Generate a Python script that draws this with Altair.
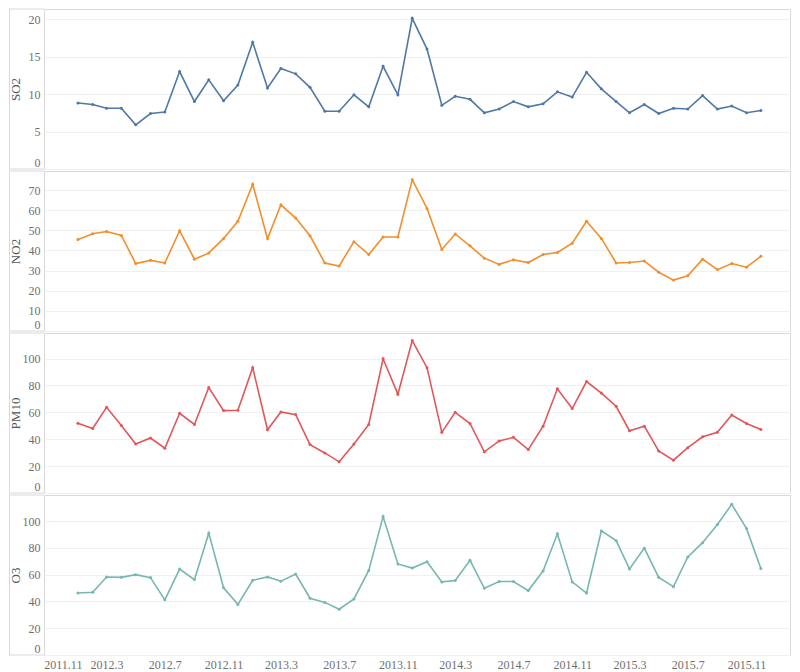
import altair as alt
import pandas as pd

# monthly observations, 2012.1 - 2015.12
months = [f"{y}-{m:02d}-01" for y in range(2012, 2016) for m in range(1, 13)]

so2 = [8.8, 8.6, 8.1, 8.1, 5.9, 7.4, 7.6, 13.0, 9.0, 11.9, 9.1, 11.2,
       16.9, 10.8, 13.4, 12.7, 10.9, 7.7, 7.7, 9.9, 8.3, 13.7, 9.9, 20.1,
       16.0, 8.5, 9.7, 9.3, 7.5, 8.0, 9.0, 8.3, 8.7, 10.3, 9.6, 12.9,
       10.7, 9.0, 7.5, 8.6, 7.4, 8.1, 8.0, 9.8, 8.0, 8.4, 7.5, 7.8]

no2 = [45.5, 48.3, 49.4, 47.5, 33.5, 35.1, 33.8, 49.8, 35.7, 38.7, 46.0, 54.5,
       72.9, 45.9, 62.7, 56.1, 47.3, 33.8, 32.3, 44.4, 38.0, 46.7, 46.7, 75.2,
       60.9, 40.5, 48.2, 42.3, 36.2, 33.1, 35.4, 34.0, 38.0, 39.0, 43.6, 54.5,
       46.0, 33.8, 34.0, 34.8, 29.2, 25.3, 27.4, 35.7, 30.5, 33.5, 31.7, 37.1]

pm10 = [51.9, 48.0, 63.7, 50.2, 36.5, 40.9, 33.3, 59.3, 51.0, 78.5, 61.3, 61.5,
        93.2, 47.0, 60.3, 58.3, 36.0, 29.8, 23.2, 36.5, 51.0, 99.8, 73.5, 113.3,
        93.2, 45.1, 60.0, 51.7, 30.6, 38.7, 41.4, 32.3, 49.7, 77.5, 62.8, 82.9,
        74.3, 64.5, 46.3, 49.7, 31.3, 24.4, 33.7, 41.8, 45.1, 58.0, 51.7, 47.3]

o3 = [46.3, 46.8, 58.3, 58.0, 60.0, 57.8, 41.2, 64.2, 56.3, 91.0, 50.2, 37.8,
      55.8, 58.3, 55.1, 60.5, 42.4, 39.3, 34.2, 41.9, 63.2, 103.4, 68.0, 64.9,
      69.7, 54.6, 55.6, 70.7, 49.8, 54.9, 54.9, 48.1, 62.7, 90.5, 54.6, 46.3,
      92.7, 85.4, 64.2, 79.8, 58.0, 51.0, 73.2, 83.9, 97.5, 112.5, 94.4, 64.6]

pollutants = ["SO2", "NO2", "PM10", "O3"]
series = [so2, no2, pm10, o3]
colors = ["#4e79a7", "#f28e2b", "#e15759", "#76b7b2"]
y_max = [21.35, 79.5, 119.0, 119.5]
y_ticks = [
    [0, 5, 10, 15, 20],
    [0, 10, 20, 30, 40, 50, 60, 70],
    [0, 20, 40, 60, 80, 100],
    [0, 20, 40, 60, 80, 100],
]
x_tick_labels = ["2011.11", "2012.3", "2012.7", "2012.11", "2013.3", "2013.7",
                 "2013.11", "2014.3", "2014.7", "2014.11", "2015.3", "2015.7",
                 "2015.11"]


def to_dt(label):
    y, m = label.split(".")
    return alt.DateTime(year=int(y), month=int(m), date=1, utc=True)


x_domain = [alt.DateTime(year=2011, month=10, date=22, utc=True),
            alt.DateTime(year=2016, month=1, date=31, utc=True)]

FONT = "Liberation Serif"
W, H = 746, 160
FRAME = "#d9d9d9"
HEADER_W = 35  # width of the row-header strip left of each pane


def panel(name, values, color, ymax, ticks, show_x):
    data = pd.DataFrame({"month": months, "value": values})
    if show_x:
        x_axis = alt.Axis(
            values=[to_dt(l) for l in x_tick_labels],
            labelExpr="utcFormat(datum.value, '%Y') + '.' + (utcmonth(datum.value) + 1)",
            labelFlush=12,
            labelFlushOffset=5,
            grid=False, ticks=False, domain=False,
            labelPadding=4, title=None,
        )
    else:
        x_axis = None
    line = alt.Chart(data).mark_line(
        color=color, strokeWidth=1.6,
        point=alt.OverlayMarkDef(color=color, size=9, filled=True, opacity=1),
    ).encode(
        x=alt.X("month:T", scale=alt.Scale(type="utc", domain=x_domain), axis=x_axis),
        y=alt.Y("value:Q",
                scale=alt.Scale(domain=[0, ymax], nice=False, zero=False),
                axis=alt.Axis(values=ticks, title=name, titleX=-29,
                              titleBaseline="middle", labelFlush=True,
                              labelPadding=4, grid=True, ticks=False,
                              domain=False)),
    )
    # frame of the row-header strip (decoration, pixel space)
    frame_src = alt.Chart(pd.DataFrame({"k": [0]}))
    top = frame_src.mark_rule(color=FRAME, strokeWidth=1).encode(
        x=alt.value(-HEADER_W), x2=alt.value(0), y=alt.value(0))
    bottom = frame_src.mark_rule(color=FRAME, strokeWidth=1).encode(
        x=alt.value(-HEADER_W), x2=alt.value(0), y=alt.value(H))
    side = frame_src.mark_rule(color=FRAME, strokeWidth=1).encode(
        x=alt.value(-HEADER_W + 0.5), y=alt.value(0), y2=alt.value(H))
    return alt.layer(line, top, bottom, side).properties(width=W, height=H)


charts = [panel(n, s, c, m, t, i == 3)
          for i, (n, s, c, m, t) in enumerate(zip(pollutants, series, colors, y_max, y_ticks))]

chart = alt.vconcat(*charts, spacing=0).resolve_scale(y="independent").properties(
    padding=0, background="white"
).configure_view(
    stroke=FRAME, strokeWidth=1
).configure_axis(
    labelFont=FONT, titleFont=FONT, labelFontSize=12, titleFontSize=13,
    labelColor="#6f6f6f", titleColor="#555555", titleFontWeight="normal",
    gridColor="#f0f0f0", gridWidth=1,
)

chart.save("out.html", embed_options={"renderer": "svg", "actions": False})
